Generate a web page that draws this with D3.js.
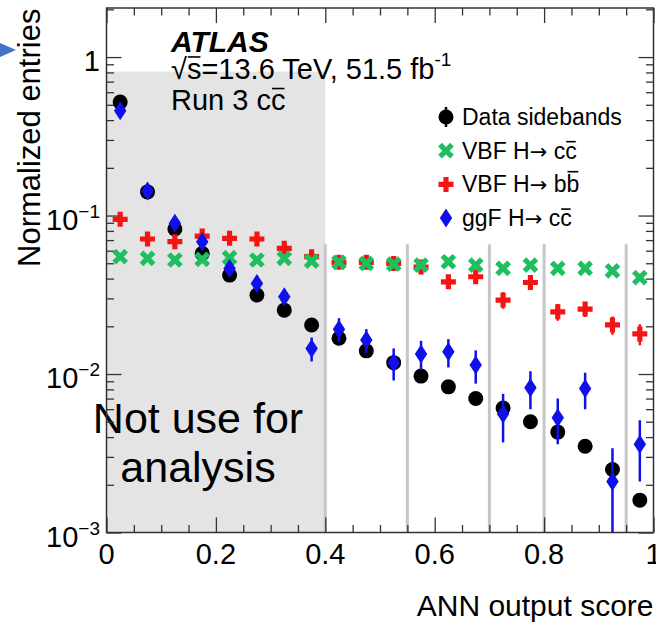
<!DOCTYPE html>
<html>
<head>
<meta charset="utf-8">
<script src="https://cdn.jsdelivr.net/npm/d3@7"></script>
<style>
  body { margin: 0; background: #fff; }
  svg text { font-family: "Liberation Sans", Arial, Helvetica, sans-serif; fill: #000; }
</style>
</head>
<body>
<svg id="chart" width="656" height="623"></svg>
<script>
// ANN score bins (centres)
const binCenters = [0.025, 0.075, 0.125, 0.175, 0.225, 0.275, 0.325, 0.375, 0.425, 0.475,
  0.525, 0.575, 0.625, 0.675, 0.725, 0.775, 0.825, 0.875, 0.925, 0.975];

const dataSidebands = [0.520, 0.141, 0.0822, 0.0577, 0.0421, 0.0315, 0.0253, 0.0204, 0.0168, 0.0140,
  0.0118, 0.0097, 0.0083, 0.0070, 0.0061, 0.0050, 0.0043, 0.0035, 0.0025, 0.0016];

const vbfCC = [0.0550, 0.0537, 0.0524, 0.0529, 0.0542, 0.0524, 0.0537, 0.0516, 0.0507, 0.0499,
  0.0494, 0.0487, 0.0511, 0.0487, 0.0464, 0.0487, 0.0464, 0.0464, 0.0448, 0.0406];
const vbfCCErr = [0.0015, 0.0015, 0.0015, 0.0015, 0.0015, 0.0015, 0.0015, 0.0015, 0.0015, 0.0015,
  0.0015, 0.0015, 0.0015, 0.0015, 0.0015, 0.0015, 0.0015, 0.0015, 0.0015, 0.0015];

const vbfBB = [0.0946, 0.0711, 0.0684, 0.0742, 0.0718, 0.0711, 0.0621, 0.0550, 0.0507, 0.0507,
  0.0499, 0.0473, 0.0382, 0.0411, 0.0293, 0.0378, 0.0247, 0.0257, 0.0204, 0.0179];
const vbfBBErr = [0.002, 0.0015, 0.0015, 0.0015, 0.0015, 0.0015, 0.0015, 0.0015, 0.0015, 0.0015,
  0.0015, 0.0015, 0.002, 0.002, 0.0035, 0.0025, 0.003, 0.0028, 0.0027, 0.0027];

const ggfCC = [0.458, 0.143, 0.0893, 0.0684, 0.0464, 0.0373, 0.0307, 0.0145, 0.0192, 0.0164,
  0.0118, 0.0134, 0.0138, 0.0114, 0.0056, 0.0082, 0.0053, 0.0081, 0.0021, 0.0036];
const ggfCCErr = [0.02, 0.006, 0.006, 0.005, 0.004, 0.004, 0.0035, 0.0025, 0.0033, 0.0028,
  0.0027, 0.0028, 0.0028, 0.0027, 0.0019, 0.0022, 0.0017, 0.0021, 0.0013, 0.0015];

// category boundaries used in the analysis
const categoryEdges = [0.4, 0.55, 0.7, 0.8, 0.95];
const excludedRange = [0, 0.4];
const excludedTop = 0.81;
const edgeLineTop = 0.066;

const xMajorTicks = [0, 0.2, 0.4, 0.6, 0.8, 1];
const xTickLabels = ["0", "0.2", "0.4", "0.6", "0.8", "1"];
const xMinorTicks = [0.05, 0.1, 0.15, 0.25, 0.3, 0.35, 0.45, 0.5, 0.55, 0.65, 0.7, 0.75, 0.85, 0.9, 0.95];
const yDecades = [-3, -2, -1, 0];

// legend: text before the arrow, text after it, and whether the last char is barred
const legendBefore = ["Data sidebands", "VBF H", "VBF H", "ggF H"];
const legendAfter = ["", " cc", " bb", " cc"];
const legendBarred = [false, true, true, true];

const colors = { data: "#000000", vbfCC: "#1fbe5f", vbfBB: "#f41414", ggf: "#1010ec" };

const svg = d3.select("#chart");
const plot = { left: 106.5, right: 653.5, top: 8, bottom: 532.5 };

const x = d3.scaleLinear().domain([0, 1]).range([plot.left, plot.right]);
const y = d3.scaleLog().domain([1e-3, 2.04]).range([plot.bottom, plot.top]);

svg.append("defs").append("clipPath").attr("id", "clip")
  .append("rect")
  .attr("x", plot.left).attr("y", plot.top)
  .attr("width", plot.right - plot.left).attr("height", plot.bottom - plot.top);

// grey "not used" area
svg.append("rect")
  .attr("x", x(excludedRange[0]))
  .attr("y", y(excludedTop))
  .attr("width", x(excludedRange[1]) - x(excludedRange[0]))
  .attr("height", plot.bottom - y(excludedTop))
  .attr("fill", "#e4e4e4");

// category boundary lines
svg.selectAll(".edge")
  .data(categoryEdges)
  .join("line")
  .attr("x1", (d) => x(d)).attr("x2", (d) => x(d))
  .attr("y1", y(edgeLineTop)).attr("y2", plot.bottom)
  .attr("stroke", "#c6c6c6")
  .attr("stroke-width", 3);

svg.append("text")
  .attr("x", 198).attr("y", 433)
  .attr("text-anchor", "middle")
  .style("font-size", "43px")
  .text("Not use for");
svg.append("text")
  .attr("x", 198).attr("y", 482)
  .attr("text-anchor", "middle")
  .style("font-size", "43px")
  .text("analysis");

// axes: major and minor ticks, drawn inward on all four sides
const tickColor = "#333";
function styleAxis(g) {
  g.select(".domain").remove();
  g.selectAll("line").attr("stroke", tickColor).attr("stroke-width", 1.3);
  g.selectAll("text").remove();
}
svg.append("g").attr("transform", `translate(0,${plot.bottom})`)
  .call(d3.axisBottom(x).tickValues(xMajorTicks).tickSize(-15)).call(styleAxis);
svg.append("g").attr("transform", `translate(0,${plot.bottom})`)
  .call(d3.axisBottom(x).tickValues(xMinorTicks).tickSize(-7.5)).call(styleAxis);
svg.append("g").attr("transform", `translate(0,${plot.top})`)
  .call(d3.axisTop(x).tickValues(xMajorTicks).tickSize(-15)).call(styleAxis);
svg.append("g").attr("transform", `translate(0,${plot.top})`)
  .call(d3.axisTop(x).tickValues(xMinorTicks).tickSize(-7.5)).call(styleAxis);

const yMajor = yDecades.map((e) => Math.pow(10, e));
const yMinor = [];
yDecades.forEach((e) => {
  for (let k = 2; k <= 9; k++) {
    const v = k * Math.pow(10, e);
    if (v < y.domain()[1]) yMinor.push(v);
  }
});
svg.append("g").attr("transform", `translate(${plot.left},0)`)
  .call(d3.axisLeft(y).tickValues(yMajor).tickSize(-15)).call(styleAxis);
svg.append("g").attr("transform", `translate(${plot.left},0)`)
  .call(d3.axisLeft(y).tickValues(yMinor).tickSize(-7.5)).call(styleAxis);
svg.append("g").attr("transform", `translate(${plot.right},0)`)
  .call(d3.axisRight(y).tickValues(yMajor).tickSize(-15)).call(styleAxis);
svg.append("g").attr("transform", `translate(${plot.right},0)`)
  .call(d3.axisRight(y).tickValues(yMinor).tickSize(-7.5)).call(styleAxis);

// frame
svg.append("rect")
  .attr("x", plot.left).attr("y", plot.top)
  .attr("width", plot.right - plot.left).attr("height", plot.bottom - plot.top)
  .attr("fill", "none")
  .attr("stroke", "#333")
  .attr("stroke-width", 1.5);

// tick labels
svg.selectAll(".xlab")
  .data(xMajorTicks)
  .join("text")
  .attr("x", (d) => x(d))
  .attr("y", plot.bottom + 31)
  .attr("text-anchor", "middle")
  .style("font-size", "29px")
  .text((d, i) => xTickLabels[i]);

yDecades.forEach((e) => {
  const t = svg.append("text")
    .attr("x", 100)
    .attr("y", y(Math.pow(10, e)) + 14)
    .attr("text-anchor", "end")
    .style("font-size", "29px");
  if (e === 0) {
    t.text("1");
  } else {
    t.append("tspan").text("10");
    t.append("tspan").attr("dy", -12).style("font-size", "19px").text("\u2212" + Math.abs(e));
  }
});

// axis titles
svg.append("text")
  .attr("x", plot.right)
  .attr("y", 616)
  .attr("text-anchor", "end")
  .style("font-size", "30px")
  .text("ANN output score");

svg.append("text")
  .attr("transform", "translate(40,267) rotate(-90)")
  .attr("text-anchor", "start")
  .style("font-size", "31px")
  .text("Normalized entries");

svg.append("path")
  .attr("d", "M0,43 L16,50 L0,57 Z")
  .attr("fill", "#4472c4");

// marker shapes
function plusPath(h, t) {
  return `M${-t},${-h} H${t} V${-t} H${h} V${t} H${t} V${h} H${-t} V${t} H${-h} V${-t} H${-t} Z`;
}
const markers = {
  circle: (g) => g.append("circle").attr("r", 7.5),
  plus: (g) => g.append("path").attr("d", plusPath(7.5, 2.6)),
  cross: (g) => g.append("path").attr("d", plusPath(8.5, 2.6)).attr("transform", "rotate(45)"),
  diamond: (g) => g.append("path").attr("d", "M0,-9.5 L6.2,0 L0,9.5 L-6.2,0 Z"),
};

const series = [
  { values: dataSidebands, errs: null, color: colors.data, marker: "circle" },
  { values: vbfBB, errs: vbfBBErr, color: colors.vbfBB, marker: "plus" },
  { values: vbfCC, errs: vbfCCErr, color: colors.vbfCC, marker: "cross" },
  { values: ggfCC, errs: ggfCCErr, color: colors.ggf, marker: "diamond" },
];

const pts = svg.append("g").attr("clip-path", "url(#clip)");
series.forEach((s) => {
  const g = pts.append("g");
  if (s.errs) {
    g.selectAll("line")
      .data(s.values)
      .join("line")
      .attr("x1", (d, i) => x(binCenters[i]))
      .attr("x2", (d, i) => x(binCenters[i]))
      .attr("y1", (d, i) => y(d + s.errs[i]))
      .attr("y2", (d, i) => y(Math.max(d - s.errs[i], 1e-4)))
      .attr("stroke", s.color)
      .attr("stroke-width", 2.5);
  }
  g.selectAll("g.m")
    .data(s.values)
    .join("g")
    .attr("class", "m")
    .attr("transform", (d, i) => `translate(${x(binCenters[i])},${y(d)})`)
    .attr("fill", s.color)
    .each(function () { markers[s.marker](d3.select(this)); });
});

// overline over one character of a text element
function overline(textSel, idx, fontSize, heightEm) {
  const node = textSel.node();
  const ext = node.getExtentOfChar(idx);
  const base = +textSel.attr("y");
  textSel.select(function () { return this.parentNode; })
    .append("line")
    .attr("x1", ext.x + 1).attr("x2", ext.x + ext.width - 1)
    .attr("y1", base - heightEm * fontSize).attr("y2", base - heightEm * fontSize)
    .attr("stroke", "#000")
    .attr("stroke-width", 1.6);
}

// legend
const legend = svg.append("g");
const legendY0 = 117;
const legendStep = 33.7;
legendBefore.forEach((before, i) => {
  const s = series[[0, 2, 1, 3][i]];
  const cy = legendY0 + i * legendStep;
  if (i === 0) {
    legend.append("line")
      .attr("x1", 446).attr("x2", 446)
      .attr("y1", cy - 10).attr("y2", cy + 10)
      .attr("stroke", s.color).attr("stroke-width", 2.5);
  }
  const m = legend.append("g")
    .attr("transform", `translate(446,${cy})`)
    .attr("fill", s.color);
  markers[s.marker](m);
  const t = legend.append("text")
    .attr("x", 462)
    .attr("y", cy + 8)
    .style("font-size", "23px");
  t.append("tspan").text(before);
  if (legendAfter[i]) {
    t.append("tspan")
      .style("font-family", "'DejaVu Sans', sans-serif")
      .style("font-size", "21px")
      .text("\u2192");
    t.append("tspan").text(legendAfter[i]);
  }
  if (legendBarred[i]) {
    const full = before + "\u2192" + legendAfter[i];
    const last = full.length - 1;
    overline(t, last, 23, full[last] === "b" ? 0.9 : 0.74);
  }
});

// ATLAS label
const info = svg.append("g");
info.append("text")
  .attr("x", 171).attr("y", 52)
  .style("font-size", "30px")
  .style("font-weight", "bold")
  .style("font-style", "italic")
  .text("ATLAS");
const energy = info.append("text")
  .attr("x", 171).attr("y", 79)
  .style("font-size", "29px");
energy.append("tspan").text("\u221As=13.6 TeV, 51.5 fb");
energy.append("tspan").attr("dy", -13).style("font-size", "19px").text("-1");
overline(energy, 1, 29, 0.76);
const run = info.append("text")
  .attr("x", 171).attr("y", 110)
  .style("font-size", "29px")
  .text("Run 3 cc");
overline(run, 7, 29, 0.74);
</script>
</body>
</html>
